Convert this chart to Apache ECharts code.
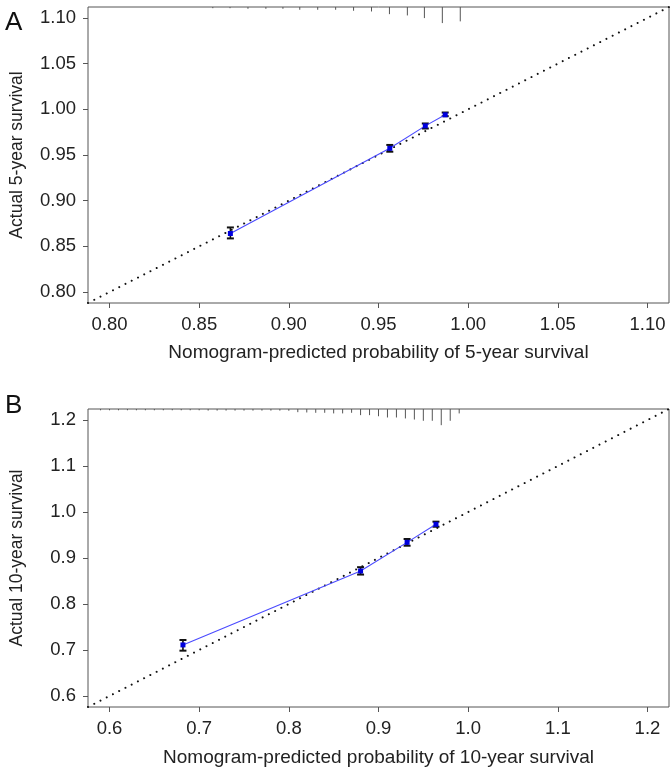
<!DOCTYPE html>
<html>
<head>
<meta charset="utf-8">
<script src="https://cdn.jsdelivr.net/npm/echarts@6/dist/echarts.min.js"></script>
<style>
html,body{margin:0;padding:0;background:#fff;}
#chart{width:670px;height:773px;}
</style>
</head>
<body>
<div id="chart"></div>
<script>
// ---------- Panel A: 5-year ----------
const rangeA = [0.788, 1.112];
const ticksA = [0.80, 0.85, 0.90, 0.95, 1.00, 1.05, 1.10];
const predA = [0.8674, 0.9563, 0.9761, 0.9872];
const actualA = [0.8641, 0.9573, 0.9819, 0.9940];
const lowA = [0.8587, 0.9536, 0.9790, 0.9925];
const highA = [0.8707, 0.9610, 0.9845, 0.9965];
const rugXA = [0.8576, 0.8672, 0.8772, 0.8872, 0.8967, 0.9061, 0.9161, 0.9261, 0.9361, 0.9461, 0.9561, 0.9661, 0.9756, 0.9856, 0.9956];
const rugFA = [0.045, 0.045, 0.083, 0.083, 0.083, 0.146, 0.146, 0.146, 0.21, 0.255, 0.427, 0.51, 0.68, 1.0, 0.89];

// ---------- Panel B: 10-year ----------
const rangeB = [0.576, 1.224];
const ticksB = [0.6, 0.7, 0.8, 0.9, 1.0, 1.1, 1.2];
const predB = [0.6819, 0.8800, 0.9319, 0.9641];
const actualB = [0.7110, 0.8717, 0.9340, 0.9733];
const lowB = [0.6985, 0.8640, 0.9267, 0.9680];
const highB = [0.7217, 0.8800, 0.9413, 0.9790];
const rugXB = [0.59, 0.60, 0.61, 0.62, 0.63, 0.64, 0.65, 0.66, 0.67, 0.68, 0.69, 0.70, 0.71, 0.72, 0.73, 0.74, 0.75, 0.76, 0.77, 0.78, 0.79, 0.80, 0.81, 0.82, 0.83, 0.84, 0.85, 0.86, 0.87, 0.88, 0.89, 0.90, 0.91, 0.92, 0.93, 0.94, 0.95, 0.96, 0.97, 0.98, 0.99];
const rugFB = [0.05, 0.05, 0.05, 0.05, 0.05, 0.05, 0.05, 0.05, 0.05, 0.05, 0.05, 0.05, 0.07, 0.07, 0.07, 0.07, 0.07, 0.07, 0.07, 0.07, 0.07, 0.08, 0.17, 0.19, 0.21, 0.21, 0.25, 0.25, 0.21, 0.36, 0.36, 0.43, 0.51, 0.51, 0.57, 0.64, 0.72, 0.72, 1.0, 0.72, 0.25];

const xTitleA = 'Nomogram-predicted probability of 5-year survival';
const yTitleA = 'Actual 5-year survival';
const xTitleB = 'Nomogram-predicted probability of 10-year survival';
const yTitleB = 'Actual 10-year survival';

const FONT = 'Liberation Sans, Arial, Helvetica, sans-serif';
const TXT = '#222';
const BOX = '#555';

function zipPts(xs, ys) { return xs.map((x, i) => [x, ys[i]]); }
function zipErr(xs, lo, hi) { return xs.map((x, i) => [x, lo[i], hi[i]]); }

function errRender(params, api) {
  const x = api.value(0);
  const pLo = api.coord([x, api.value(1)]);
  const pHi = api.coord([x, api.value(2)]);
  const w = 3.5;
  const st = { stroke: '#111', lineWidth: 1.6 };
  return {
    type: 'group',
    children: [
      { type: 'line', shape: { x1: pLo[0], y1: pLo[1], x2: pHi[0], y2: pHi[1] }, style: st },
      { type: 'line', shape: { x1: pLo[0] - w, y1: pLo[1], x2: pLo[0] + w, y2: pLo[1] }, style: { stroke: '#111', lineWidth: 2 } },
      { type: 'line', shape: { x1: pHi[0] - w, y1: pHi[1], x2: pHi[0] + w, y2: pHi[1] }, style: { stroke: '#111', lineWidth: 2 } }
    ]
  };
}
function rugRender(params, api) {
  const x = api.value(0);
  const p0 = api.coord([x, 0]);
  const p1 = api.coord([x, api.value(1)]);
  return { type: 'line', shape: { x1: p0[0], y1: p0[1], x2: p1[0], y2: p1[1] + 0.5 }, style: { stroke: '#555', lineWidth: 1 } };
}

function xAxisCfg(grid, range, ticks, dec, title, gap) {
  return {
    type: 'value', gridIndex: grid, min: range[0], max: range[1], position: 'bottom',
    axisLine: { show: false, onZero: false },
    splitLine: { show: false },
    axisTick: { show: true, inside: false, length: 5, customValues: ticks, lineStyle: { color: BOX, width: 1 } },
    axisLabel: { customValues: ticks, margin: 12, fontSize: 18.5, fontFamily: FONT, color: TXT, formatter: v => v.toFixed(dec) },
    name: title, nameLocation: 'middle', nameGap: gap,
    nameTextStyle: { fontSize: 19, fontFamily: FONT, color: TXT }
  };
}
function yAxisCfg(grid, range, ticks, dec, title) {
  return {
    type: 'value', gridIndex: grid, min: range[0], max: range[1], position: 'left',
    axisLine: { show: false, onZero: false },
    splitLine: { show: false },
    axisTick: { show: true, inside: false, length: 5, customValues: ticks, lineStyle: { color: BOX, width: 1 } },
    axisLabel: { customValues: ticks, margin: 12, fontSize: 18.5, fontFamily: FONT, color: TXT, formatter: v => v.toFixed(dec) },
    name: title, nameLocation: 'middle', nameGap: 62,
    nameTextStyle: { fontSize: 17.5, fontFamily: FONT, color: TXT }
  };
}
function rugAxis(grid) {
  return {
    type: 'value', gridIndex: grid, min: 0, max: 19, inverse: true, position: 'right',
    show: false, axisLine: { show: false, onZero: false }, axisTick: { show: false },
    axisLabel: { show: false }, splitLine: { show: false }
  };
}

function panelSeries(xi, yi, ryi, range, px, ay, lo, hi, rx, rf) {
  return [
    {
      type: 'line', xAxisIndex: xi, yAxisIndex: yi, silent: true,
      data: [[range[0], range[0]], [range[1], range[1]]],
      symbol: 'none', lineStyle: { color: '#111', width: 2, type: [0.01, 7], cap: 'round' }, z: 2
    },
    {
      type: 'custom', xAxisIndex: xi, yAxisIndex: ryi, silent: true,
      data: zipPts(rx, rf), renderItem: rugRender, z: 2
    },
    {
      type: 'custom', xAxisIndex: xi, yAxisIndex: yi, silent: true,
      data: zipErr(px, lo, hi), renderItem: errRender, z: 3
    },
    {
      type: 'line', xAxisIndex: xi, yAxisIndex: yi, silent: true,
      data: zipPts(px, ay),
      symbol: 'rect', symbolSize: 5,
      itemStyle: { color: '#0000dd' },
      lineStyle: { color: '#4a4aff', width: 1.1 }, z: 4
    }
  ];
}

const chart = echarts.init(document.getElementById('chart'), null, { renderer: 'canvas' });
chart.setOption({
  animation: false,
  backgroundColor: '#fff',
  grid: [
    { left: 86, top: 7, width: 583, height: 296, show: true, borderColor: BOX, borderWidth: 1, backgroundColor: 'transparent' },
    { left: 86, top: 409, width: 583, height: 298, show: true, borderColor: BOX, borderWidth: 1, backgroundColor: 'transparent' }
  ],
  xAxis: [
    xAxisCfg(0, rangeA, ticksA, 2, xTitleA, 40),
    xAxisCfg(1, rangeB, ticksB, 1, xTitleB, 41)
  ],
  yAxis: [
    yAxisCfg(0, rangeA, ticksA, 2, yTitleA),
    rugAxis(0),
    yAxisCfg(1, rangeB, ticksB, 1, yTitleB),
    rugAxis(1)
  ],
  graphic: [
    { type: 'text', left: 5, top: 10, style: { text: 'A', fontSize: 26, fontFamily: FONT, fill: '#111' } },
    { type: 'text', left: 5, top: 393, style: { text: 'B', fontSize: 26, fontFamily: FONT, fill: '#111' } }
  ],
  series: [].concat(
    panelSeries(0, 0, 1, rangeA, predA, actualA, lowA, highA, rugXA, rugFA),
    panelSeries(1, 2, 3, rangeB, predB, actualB, lowB, highB, rugXB, rugFB)
  )
});
</script>
</body>
</html>
